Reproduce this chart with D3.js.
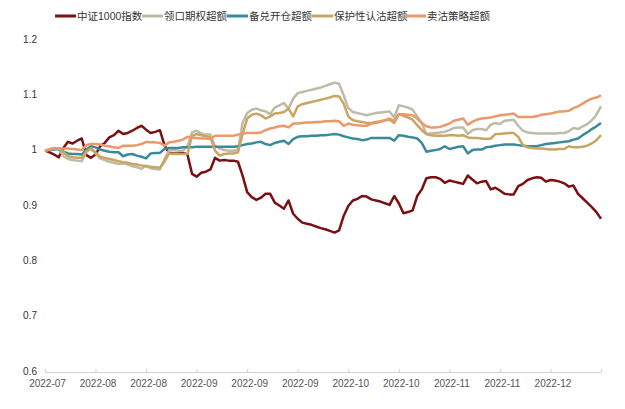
<!DOCTYPE html>
<html>
<head>
<meta charset="utf-8">
<script src="https://cdn.jsdelivr.net/npm/d3@7"></script>
<style>
  body { margin: 0; background: #fff; }
  text { font-family: "Liberation Sans", Arial, "Noto Sans CJK SC", sans-serif; }
</style>
</head>
<body>
<div id="chart"></div>
<script>
// chart size
var svgWidth = 625;
var svgHeight = 409;

var margin = { top: 40, right: 24, bottom: 37, left: 45 };

// series names
var seriesNames = ["中证1000指数", "领口期权超额", "备兑开仓超额", "保护性认沽超额", "卖沽策略超额"];
var seriesColors = ["#7a1014", "#bfbba9", "#3b8a9b", "#c9a462", "#e9996b"];

// x tick labels (one every 11 trading days)
var tickLabels = ["2022-07", "2022-08", "2022-08", "2022-09", "2022-09", "2022-09",
                  "2022-10", "2022-10", "2022-11", "2022-11", "2022-12"];
var yTicks = [0.6, 0.7, 0.8, 0.9, 1, 1.1, 1.2];

// values, 122 trading days
var csi1000 = [1.000,0.997,0.993,0.988,1.005,1.016,1.013,1.018,1.022,0.992,0.987,0.993,1.008,1.014,1.024,1.028,1.036,1.030,1.032,1.036,
  1.041,1.045,1.038,1.032,1.034,1.037,1.010,0.996,0.995,0.995,0.996,0.993,0.958,0.953,0.960,0.962,0.966,0.987,0.982,0.983,
  0.982,0.982,0.980,0.955,0.925,0.916,0.911,0.915,0.922,0.922,0.906,0.901,0.895,0.910,0.886,0.877,0.870,0.868,0.866,0.863,
  0.860,0.858,0.855,0.852,0.856,0.882,0.900,0.910,0.913,0.918,0.917,0.912,0.910,0.908,0.905,0.902,0.918,0.905,0.887,0.889,
  0.892,0.918,0.930,0.950,0.952,0.952,0.949,0.942,0.946,0.944,0.942,0.940,0.955,0.948,0.941,0.944,0.945,0.930,0.933,0.928,
  0.922,0.921,0.921,0.936,0.940,0.947,0.950,0.952,0.951,0.944,0.947,0.946,0.944,0.941,0.935,0.937,0.922,0.914,0.906,0.898,
  0.889,0.877];

var collar = [1.000,1.003,1.005,1.003,0.990,0.985,0.983,0.982,0.981,0.998,1.003,0.995,0.986,0.983,0.980,0.978,0.976,0.977,0.975,0.972,
  0.970,0.967,0.973,0.968,0.967,0.966,0.985,1.000,1.001,1.000,1.000,1.008,1.033,1.036,1.031,1.029,1.029,1.008,1.004,1.001,
  1.000,1.000,1.002,1.050,1.068,1.074,1.076,1.073,1.071,1.066,1.078,1.082,1.086,1.076,1.094,1.104,1.106,1.108,1.110,1.112,
  1.114,1.117,1.120,1.123,1.121,1.100,1.077,1.070,1.068,1.066,1.064,1.066,1.068,1.069,1.070,1.071,1.060,1.082,1.080,1.078,
  1.074,1.062,1.050,1.030,1.031,1.032,1.033,1.034,1.037,1.041,1.042,1.042,1.030,1.037,1.039,1.039,1.037,1.047,1.050,1.048,
  1.054,1.055,1.056,1.045,1.036,1.033,1.032,1.031,1.031,1.031,1.031,1.031,1.032,1.032,1.035,1.041,1.039,1.044,1.048,1.055,
  1.065,1.080];

var coveredCall = [1.000,1.001,1.002,1.003,0.998,0.995,0.994,0.994,0.993,1.002,1.008,1.006,1.002,1.000,0.998,0.997,0.997,0.990,0.993,0.994,
  0.991,0.989,0.986,0.995,0.996,0.996,1.003,1.005,1.005,1.005,1.006,1.006,1.006,1.007,1.007,1.007,1.007,1.007,1.007,1.007,
  1.007,1.007,1.008,1.010,1.012,1.013,1.015,1.016,1.012,1.010,1.014,1.016,1.018,1.012,1.021,1.025,1.026,1.026,1.027,1.027,
  1.028,1.028,1.029,1.030,1.029,1.026,1.024,1.022,1.021,1.019,1.020,1.023,1.023,1.023,1.023,1.023,1.018,1.028,1.027,1.025,
  1.024,1.022,1.014,0.998,1.000,1.001,1.003,1.008,1.003,1.005,1.007,1.008,0.995,1.001,1.002,1.002,1.006,1.007,1.009,1.010,
  1.011,1.011,1.011,1.010,1.009,1.008,1.008,1.008,1.010,1.012,1.013,1.014,1.015,1.016,1.017,1.020,1.022,1.028,1.033,1.039,
  1.044,1.050];

var protectivePut = [1.000,1.002,1.004,1.005,0.997,0.990,0.988,0.987,0.987,0.999,1.004,0.997,0.989,0.987,0.985,0.983,0.981,0.979,0.978,0.976,
  0.975,0.973,0.972,0.971,0.970,0.969,0.980,0.995,0.994,0.994,0.994,0.994,1.027,1.030,1.028,1.026,1.024,1.000,0.991,0.994,
  0.995,0.995,0.997,1.030,1.058,1.065,1.067,1.064,1.058,1.062,1.067,1.068,1.070,1.076,1.062,1.080,1.084,1.086,1.088,1.090,
  1.092,1.094,1.096,1.099,1.098,1.085,1.062,1.055,1.053,1.052,1.050,1.050,1.052,1.053,1.055,1.056,1.050,1.066,1.063,1.060,
  1.056,1.046,1.037,1.030,1.028,1.027,1.027,1.027,1.028,1.028,1.027,1.028,1.024,1.023,1.023,1.022,1.021,1.022,1.030,1.030,
  1.031,1.032,1.032,1.025,1.010,1.006,1.005,1.004,1.004,1.003,1.002,1.002,1.003,1.003,1.008,1.006,1.006,1.007,1.009,1.013,
  1.019,1.028];

var shortPut = [1.000,1.002,1.004,1.004,1.004,1.004,1.003,1.002,1.001,1.010,1.012,1.012,1.011,1.009,1.008,1.006,1.005,1.009,1.009,1.009,
  1.010,1.012,1.016,1.015,1.015,1.014,1.009,1.015,1.016,1.018,1.020,1.025,1.024,1.023,1.022,1.022,1.021,1.027,1.027,1.027,
  1.027,1.027,1.029,1.031,1.032,1.032,1.032,1.033,1.037,1.040,1.042,1.044,1.045,1.042,1.049,1.049,1.050,1.051,1.051,1.052,
  1.052,1.053,1.053,1.054,1.053,1.045,1.049,1.047,1.046,1.045,1.045,1.049,1.050,1.052,1.055,1.058,1.054,1.066,1.066,1.065,
  1.064,1.058,1.050,1.044,1.042,1.042,1.043,1.046,1.049,1.054,1.056,1.058,1.047,1.052,1.056,1.058,1.059,1.060,1.062,1.064,
  1.065,1.066,1.067,1.061,1.061,1.061,1.061,1.062,1.065,1.066,1.067,1.069,1.071,1.071,1.072,1.077,1.080,1.085,1.090,1.094,
  1.096,1.100];

var allSeries = [csi1000, collar, coveredCall, protectivePut, shortPut];

var svg = d3.select("#chart")
  .append("svg")
  .attr("width", svgWidth)
  .attr("height", svgHeight);

var chartWidth = svgWidth - margin.left - margin.right;
var chartHeight = svgHeight - margin.top - margin.bottom;

// scales
var xScale = d3.scaleLinear()
  .domain([0, csi1000.length - 1])
  .range([margin.left, margin.left + chartWidth]);

var yScale = d3.scaleLinear()
  .domain([0.6, 1.2])
  .range([margin.top + chartHeight, margin.top]);

// x axis
var tickIdx = d3.range(0, csi1000.length, 11);
var xAxis = d3.axisBottom(xScale)
  .tickValues(tickIdx)
  .tickSizeInner(-3)
  .tickSizeOuter(0)
  .tickPadding(8)
  .tickFormat((d, i) => tickLabels[i] || "");

var xg = svg.append("g")
  .attr("transform", `translate(0, ${margin.top + chartHeight})`)
  .call(xAxis);
xg.select(".domain").attr("stroke", "#d0d0d0");
xg.selectAll(".tick line").attr("stroke", "#d0d0d0");
xg.selectAll(".tick text")
  .attr("fill", "#555")
  .attr("dx", 2)
  .style("font-size", "10px");

// y axis, labels only
var yAxis = d3.axisLeft(yScale)
  .tickValues(yTicks)
  .tickSize(0)
  .tickPadding(8)
  .tickFormat(d => d3.format("~g")(d));

var yg = svg.append("g")
  .attr("transform", `translate(${margin.left}, 0)`)
  .call(yAxis);
yg.select(".domain").remove();
yg.selectAll(".tick text")
  .attr("fill", "#333")
  .attr("dy", "0.2em")
  .style("font-size", "10px");

// lines
var line = d3.line()
  .x((d, i) => xScale(i))
  .y(d => yScale(d));

svg.selectAll(".series")
  .data(allSeries)
  .enter()
  .append("path")
  .attr("class", "series")
  .attr("d", d => line(d))
  .attr("fill", "none")
  .attr("stroke", (d, i) => seriesColors[i])
  .attr("stroke-width", 2.5)
  .attr("stroke-linejoin", "round");

// legend
var legendX = [55, 142, 227, 312, 405];
var legend = svg.selectAll(".legend")
  .data(seriesNames)
  .enter()
  .append("g")
  .attr("class", "legend")
  .attr("transform", (d, i) => `translate(${legendX[i]}, 16)`);

legend.append("line")
  .attr("x1", 0)
  .attr("x2", 21)
  .attr("stroke", (d, i) => seriesColors[i])
  .attr("stroke-width", 3);

legend.append("text")
  .attr("x", 22)
  .attr("dy", "0.35em")
  .attr("fill", "#333")
  .style("font-size", "10.5px")
  .text(d => d);
</script>
</body>
</html>
